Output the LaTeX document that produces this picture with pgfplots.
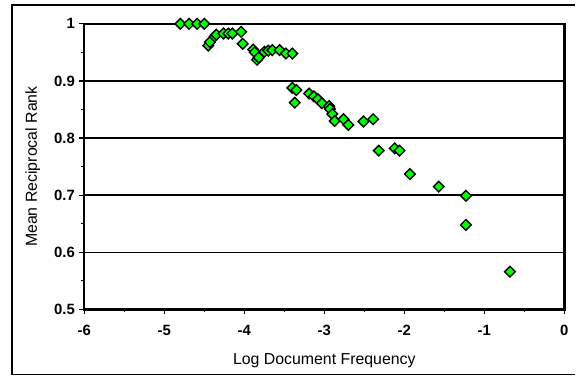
\documentclass[border=0pt]{standalone}
\usepackage{pgfplots}
\pgfplotsset{compat=1.18}
\usepackage{fontspec}
\setmainfont{Liberation Sans}
\usetikzlibrary{calc}
\definecolor{mkgreen}{RGB}{0,255,0}
\begin{document}
\begin{tikzpicture}
\begin{axis}[
  name=ax,
  scale only axis,
  width=484pt, height=288pt,
  xmin=-6, xmax=0, ymin=0.5, ymax=1,
  xtick={-6,-5,-4,-3,-2,-1,0},
  ytick={0.5,0.6,0.7,0.8,0.9,1},
  minor x tick num=1,
  minor y tick num=1,
  tick align=outside,
  major tick length=5pt,
  minor tick length=3pt,
  tick style={black, line width=1.2pt},
  axis line style={black, line width=2.4pt},
  ymajorgrids,
  grid style={black, line width=1.6pt},
  xtick pos=bottom, ytick pos=left,
  /pgf/number format/assume math mode=true,
  ticklabel style={font=\fontsize{15}{18}\selectfont\bfseries},
  xticklabel style={yshift=-7pt},
  yticklabel style={xshift=-1pt},
  xlabel={Log Document Frequency},
  ylabel={Mean Reciprocal Rank},
  label style={font=\fontsize{16}{19}\selectfont},
  xlabel style={at={(axis description cs:0.5,-0.191)}, anchor=base},
  ylabel style={at={(axis description cs:-0.1074,0.5)}, anchor=center},
  clip=false,
]
\addplot[only marks, mark=square*, mark size=3.8pt,
  mark options={rotate=45, fill=mkgreen, draw=black, line width=1.4pt}]
  table {
x y
-4.80 1.000
-4.69 1.000
-4.59 1.000
-4.50 1.000
-4.45 0.962
-4.43 0.968
-4.37 0.978
-4.35 0.981
-4.26 0.983
-4.20 0.983
-4.15 0.983
-4.04 0.986
-4.02 0.965
-3.89 0.955
-3.87 0.950
-3.84 0.937
-3.82 0.941
-3.75 0.951
-3.70 0.953
-3.65 0.954
-3.56 0.954
-3.48 0.948
-3.40 0.948
-3.40 0.888
-3.35 0.884
-3.37 0.862
-3.19 0.878
-3.13 0.873
-3.08 0.868
-3.03 0.861
-2.94 0.856
-2.93 0.851
-2.90 0.842
-2.87 0.830
-2.76 0.833
-2.70 0.823
-2.51 0.829
-2.39 0.833
-2.32 0.778
-2.12 0.782
-2.06 0.778
-1.93 0.737
-1.57 0.715
-1.23 0.699
-1.23 0.648
-0.68 0.566
};
\end{axis}
\draw[black, line width=1.5pt] ($(ax.south west)+(495pt,307pt)$) -- ($(ax.south west)+(-73pt,307pt)$) -- ($(ax.south west)+(-73pt,-65.5pt)$) -- ($(ax.south west)+(495pt,-65.5pt)$);
\path[use as bounding box] ($(ax.south west)+(-85pt,-67pt)$) rectangle ($(ax.south west)+(491pt,312pt)$);
\end{tikzpicture}
\end{document}
